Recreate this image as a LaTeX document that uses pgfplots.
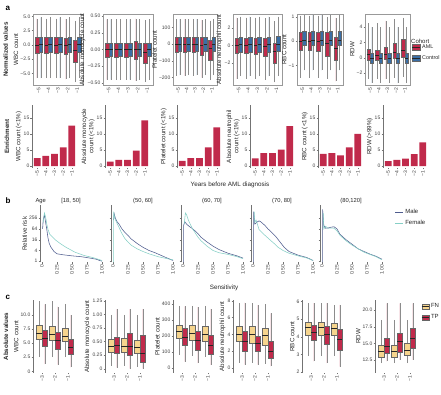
\documentclass[border=0pt]{standalone}
\usepackage{pgfplots}
\pgfplotsset{compat=1.18}
\usepgfplotslibrary{statistics}
\usepackage{fontspec}
\setmainfont{Liberation Sans}
\definecolor{aml}{HTML}{C02A4B}
\definecolor{ctl}{HTML}{3A6EA5}
\definecolor{fn}{HTML}{F6D58E}
\definecolor{male}{HTML}{4E5C8E}
\definecolor{female}{HTML}{86CFC6}
\newcommand{\bx}[7]{\addplot[forget plot, fill=#7, draw=black!60, line width=0.3pt, boxplot prepared={draw direction=y, draw position=#1, lower whisker=#2, lower quartile=#3, median=#4, upper quartile=#5, upper whisker=#6}] coordinates {};}
\newcommand{\lf}{\fontsize{6.2}{7.2}\selectfont}
\pgfplotsset{
  boxplot/every median/.style={draw=black!85, line width=0.8pt},
  boxplot/every whisker/.style={draw=black!45, line width=0.3pt},
  base/.style={scale only axis, anchor=south west,
    font=\fontsize{5}{6}\selectfont,
    tick label style={font=\fontsize{5}{6}\selectfont, text=black!75},
    label style={font=\lf, text=black!85},
    /pgf/number format/assume math mode=true,
    major tick length=1.5pt, tick align=outside,
    every tick/.style={black!55, line width=0.3pt},
    axis line style={black!55, line width=0.35pt},
    xticklabel style={rotate=90, anchor=east, inner sep=1pt},
    yticklabel style={inner sep=1pt},
    ylabel style={align=center, inner sep=1pt},
  },
  boxA/.style={base, height=71pt, xmin=0.4, xmax=5.6, xtick={1,2,3,4,5},
    xticklabels={−5,−4,−3,−2,−1}, tick pos=left, axis line style={black!40},
    boxplot/box extend=0.38, boxplot/whisker extend=0},
  barA/.style={base, width=45pt, height=63pt, xmin=0.4, xmax=5.6, ymin=-0.6, ymax=19,
    axis lines*=left, x axis line style={draw=none}, xtick={1,2,3,4,5},
    xticklabels={−5,−4,−3,−2,−1}, ytick={0,5,10,15}, yticklabels={0,5,10,15}},
  lineB/.style={base, width=63pt, height=57.5pt, xmin=-0.03, xmax=1.02, log basis y=2,
    ymin=0.85, ymax=1400, axis lines*=left, x axis line style={draw=none},
    xtick={0,0.25,0.5,0.75,1}, xticklabels={0,0.25,0.50,0.75,1.00},
    ytick={1,4,16,64,256}, yticklabels={}},
  boxC/.style={base, width=42pt, height=73pt, xmin=0.3, xmax=3.55,
    axis lines*=left, x axis line style={draw=none}, xtick={1,2,3},
    xticklabels={−3,−2,−1}, boxplot/box extend=0.42, boxplot/whisker extend=0},
  ml/.style={male, line width=0.55pt},
  fl/.style={female, line width=0.55pt},
  lg/.style={legend style={at={#1}, anchor=north west, draw=none, fill=none, inner sep=0pt,
    row sep=1.5pt, font=\fontsize{6}{7}\selectfont, text=black!85, cells={anchor=west}}},
}
\begin{document}
\begin{tikzpicture}
\path[use as bounding box] (0pt,0pt) rectangle (441pt,395pt);
% ---------------- row a: normalized values
\begin{axis}[boxA, at={(33pt,310pt)}, width=50pt, ymin=-7, ymax=5.4, ytick={-5,-2.5,0,2.5,5},
  yticklabels={−5.0,−2.5,0.0,2.5,5.0}, ylabel={\textbf{Normalized values}\\[3pt]WBC count}]
\bx{0.8}{-5.8}{-1.5}{0}{1.3}{4.6}{aml}\bx{1.2}{-5.8}{-1.3}{0.05}{1.4}{4.8}{ctl}
\bx{1.8}{-5.8}{-1.5}{0}{1.3}{4.6}{aml}\bx{2.2}{-5.8}{-1.3}{0.05}{1.4}{4.8}{ctl}
\bx{2.8}{-5.8}{-1.5}{0}{1.3}{4.6}{aml}\bx{3.2}{-5.8}{-1.3}{0.05}{1.4}{4.8}{ctl}
\bx{3.8}{-6.0}{-1.7}{-0.1}{1.2}{4.5}{aml}\bx{4.2}{-5.8}{-1.3}{0.05}{1.4}{4.8}{ctl}
\bx{4.8}{-6.5}{-3.0}{-1.0}{0.8}{4.2}{aml}\bx{5.2}{-5.8}{-1.3}{0.05}{1.4}{4.8}{ctl}
\end{axis}
\begin{axis}[boxA, at={(103pt,310pt)}, width=50pt, ymin=-0.53, ymax=0.53, ytick={-0.5,-0.25,0,0.25,0.5},
  yticklabels={−0.50,−0.25,0.00,0.25,0.50}, ylabel={Absolute monocycle count}]
\bx{0.8}{-0.45}{-0.12}{0}{0.1}{0.45}{aml}\bx{1.2}{-0.45}{-0.1}{0}{0.1}{0.45}{ctl}
\bx{1.8}{-0.45}{-0.12}{0}{0.1}{0.45}{aml}\bx{2.2}{-0.45}{-0.1}{0}{0.1}{0.45}{ctl}
\bx{2.8}{-0.45}{-0.12}{0}{0.1}{0.45}{aml}\bx{3.2}{-0.45}{-0.1}{0}{0.1}{0.45}{ctl}
\bx{3.8}{-0.47}{-0.14}{0}{0.12}{0.46}{aml}\bx{4.2}{-0.45}{-0.1}{0}{0.1}{0.45}{ctl}
\bx{4.8}{-0.48}{-0.2}{-0.05}{0.09}{0.44}{aml}\bx{5.2}{-0.45}{-0.1}{0}{0.1}{0.45}{ctl}
\end{axis}
\begin{axis}[boxA, at={(173pt,310pt)}, width=44pt, ymin=-244, ymax=180, ytick={-200,-100,0,100},
  yticklabels={−200,−100,0,100}, ylabel={Platelet count}]
\bx{0.8}{-190}{-45}{0}{44}{150}{aml}\bx{1.2}{-185}{-40}{0}{44}{150}{ctl}
\bx{1.8}{-190}{-45}{0}{44}{150}{aml}\bx{2.2}{-185}{-40}{0}{44}{150}{ctl}
\bx{2.8}{-190}{-45}{0}{44}{150}{aml}\bx{3.2}{-185}{-40}{0}{44}{150}{ctl}
\bx{3.8}{-200}{-65}{-5}{40}{145}{aml}\bx{4.2}{-185}{-40}{0}{44}{150}{ctl}
\bx{4.8}{-215}{-95}{-25}{24}{140}{aml}\bx{5.2}{-185}{-40}{0}{44}{150}{ctl}
\end{axis}
\begin{axis}[boxA, at={(233pt,310pt)}, width=49pt, ymin=-4.5, ymax=3.6, ytick={-2,0,2},
  yticklabels={−2,0,2}, ylabel={Absolute neutrophil count}]
\bx{0.8}{-3.8}{-0.9}{0}{0.9}{3.2}{aml}\bx{1.2}{-3.5}{-0.7}{0.1}{1.0}{3.3}{ctl}
\bx{1.8}{-3.8}{-0.9}{0}{0.9}{3.2}{aml}\bx{2.2}{-3.5}{-0.7}{0.1}{1.0}{3.3}{ctl}
\bx{2.8}{-3.8}{-1.0}{0}{0.9}{3.2}{aml}\bx{3.2}{-3.5}{-0.7}{0.1}{1.0}{3.3}{ctl}
\bx{3.8}{-3.9}{-1.2}{-0.1}{0.9}{3.1}{aml}\bx{4.2}{-3.5}{-0.7}{0.1}{1.0}{3.3}{ctl}
\bx{4.8}{-4.2}{-2.0}{-0.7}{0.26}{2.8}{aml}\bx{5.2}{-3.5}{-0.6}{0.1}{1.1}{3.3}{ctl}
\end{axis}
\begin{axis}[boxA, at={(297pt,310pt)}, width=46pt, ymin=-1.8, ymax=1.12, ytick={-1,0,1},
  yticklabels={−1,0,1}, ylabel={RBC count}]
\bx{0.8}{-1.5}{-0.36}{0}{0.38}{1.05}{aml}\bx{1.2}{-1.2}{-0.18}{0.05}{0.42}{1.08}{ctl}
\bx{1.8}{-1.5}{-0.36}{0}{0.38}{1.05}{aml}\bx{2.2}{-1.2}{-0.18}{0.05}{0.42}{1.08}{ctl}
\bx{2.8}{-1.5}{-0.4}{0}{0.38}{1.05}{aml}\bx{3.2}{-1.2}{-0.18}{0.05}{0.42}{1.08}{ctl}
\bx{3.8}{-1.55}{-0.6}{-0.1}{0.38}{1.0}{aml}\bx{4.2}{-1.2}{-0.18}{0.05}{0.42}{1.08}{ctl}
\bx{4.8}{-1.65}{-0.77}{-0.3}{0.18}{0.95}{aml}\bx{5.2}{-1.2}{-0.18}{0.05}{0.42}{1.08}{ctl}
\end{axis}
\begin{axis}[boxA, at={(365pt,310pt)}, width=45pt, ymin=-3.55, ymax=5.7, ytick={-2,0,2,4},
  yticklabels={−2,0,2,4}, ylabel={RDW}, lg={(1.03,0.6)}, legend style={font=\fontsize{5.4}{6.4}\selectfont}]
\bx{0.8}{-2.8}{-0.3}{0.4}{1.1}{4.5}{aml}\bx{1.2}{-3.3}{-0.7}{-0.05}{0.55}{4.0}{ctl}
\bx{1.8}{-2.8}{-0.25}{0.35}{1.0}{4.5}{aml}\bx{2.2}{-3.3}{-0.7}{-0.05}{0.55}{4.0}{ctl}
\bx{2.8}{-2.8}{-0.2}{0.45}{1.4}{4.8}{aml}\bx{3.2}{-3.3}{-0.7}{-0.05}{0.55}{4.0}{ctl}
\bx{3.8}{-2.6}{0}{0.7}{1.9}{5.0}{aml}\bx{4.2}{-3.3}{-0.7}{-0.05}{0.55}{4.0}{ctl}
\bx{4.8}{-2.5}{0.1}{1.0}{2.4}{5.2}{aml}\bx{5.2}{-3.3}{-0.7}{-0.05}{0.55}{4.0}{ctl}
\addlegendimage{legend image code/.code={\draw[fill=aml,draw=black!60,line width=0.3pt] (0pt,-2.8pt) rectangle (8pt,2.8pt); \draw[black!85,line width=0.6pt] (0pt,0pt) -- (8pt,0pt);}}
\addlegendentry{AML}
\addlegendimage{legend image code/.code={\draw[fill=ctl,draw=black!60,line width=0.3pt] (0pt,-2.8pt) rectangle (8pt,2.8pt); \draw[black!85,line width=0.6pt] (0pt,0pt) -- (8pt,0pt);}}
\addlegendentry{Control}
\end{axis}
\node[anchor=west, font=\fontsize{6}{7}\selectfont, text=black!85, inner sep=0pt] at (411pt,354pt) {Cohort};
% ---------------- row a: enrichment
\begin{axis}[barA, at={(32pt,227pt)}, ylabel={\textbf{Enrichment}\\[4pt]WBC count (<1\%)}]
\addplot[ybar, bar width=6.8pt, fill=aml, draw=none, forget plot] coordinates {(1,2.5)(2,3.2)(3,3.8)(4,5.8)(5,12.6)};
\end{axis}
\begin{axis}[barA, at={(105pt,227pt)}, ylabel={Absolute monocycle\\count (<1\%)}]
\addplot[ybar, bar width=6.8pt, fill=aml, draw=none, forget plot] coordinates {(1,1.4)(2,1.9)(3,1.9)(4,4.8)(5,14.2)};
\end{axis}
\begin{axis}[barA, at={(177pt,227pt)}, ylabel={Platelet count (<1\%)}]
\addplot[ybar, bar width=6.8pt, fill=aml, draw=none, forget plot] coordinates {(1,1.6)(2,2.5)(3,2.5)(4,5.8)(5,12.0)};
\end{axis}
\begin{axis}[barA, at={(250pt,227pt)}, ylabel={Absolute neutrophil\\count (<1\%)}]
\addplot[ybar, bar width=6.8pt, fill=aml, draw=none, forget plot] coordinates {(1,2.4)(2,4.0)(3,4.0)(4,5.1)(5,12.4)};
\end{axis}
\begin{axis}[barA, at={(318pt,227pt)}, ylabel={RBC count (<1\%)}]
\addplot[ybar, bar width=6.8pt, fill=aml, draw=none, forget plot] coordinates {(1,3.8)(2,4.0)(3,3.3)(4,5.8)(5,10.0)};
\end{axis}
\begin{axis}[barA, at={(383pt,227pt)}, ylabel={RDW (>99\%)}]
\addplot[ybar, bar width=6.8pt, fill=aml, draw=none, forget plot] coordinates {(1,1.5)(2,1.9)(3,2.3)(4,3.7)(5,7.4)};
\end{axis}
\node[font=\fontsize{6.3}{7}\selectfont, text=black!85] at (230pt,210pt) {Years before AML diagnosis};
% ---------------- row b
\begin{semilogyaxis}[lineB, at={(40.2pt,132.5pt)}, yticklabels={1,4,16,64,256}, ylabel={Relative risk}]
\addplot[ml] coordinates {(0.01,64)(0.02,200)(0.04,400)(0.06,150)(0.08,60)(0.1,20)(0.12,10)(0.15,6)(0.2,3.5)(0.25,2.6)(0.35,2.3)(0.5,2.0)(0.65,1.8)(0.8,1.5)(0.9,1.3)(1,1)};
\addplot[fl] coordinates {(0.02,150)(0.04,500)(0.06,300)(0.08,120)(0.1,60)(0.13,32)(0.18,22)(0.23,15)(0.3,10)(0.4,6)(0.47,4.5)(0.55,3.2)(0.7,2.1)(0.85,1.6)(1,1.1)};
\end{semilogyaxis}
\begin{semilogyaxis}[lineB, at={(111.2pt,132.5pt)}]
\addplot[ml] coordinates {(0.01,200)(0.02,450)(0.04,250)(0.07,160)(0.1,120)(0.15,64)(0.2,40)(0.25,28)(0.3,18)(0.4,10)(0.5,6)(0.6,4)(0.7,3)(0.85,1.8)(1,1.1)};
\addplot[fl] coordinates {(0.01,0.85)(0.01,600)(0.03,250)(0.06,150)(0.1,80)(0.14,40)(0.2,18)(0.25,12)(0.3,8)(0.4,5)(0.5,3.5)(0.6,2.6)(0.75,1.8)(0.9,1.4)(1,1.2)};
\end{semilogyaxis}
\begin{semilogyaxis}[lineB, at={(181.2pt,132.5pt)}]
\addplot[ml] coordinates {(0.01,0.85)(0.01,100)(0.03,160)(0.06,120)(0.1,90)(0.15,70)(0.2,50)(0.25,35)(0.3,22)(0.4,12)(0.5,7)(0.6,4.5)(0.75,2.8)(0.9,2)(1,1.5)};
\addplot[fl] coordinates {(0.02,120)(0.04,500)(0.06,400)(0.09,200)(0.12,120)(0.16,64)(0.2,40)(0.25,22)(0.3,14)(0.4,7)(0.5,4)(0.6,3)(0.75,2.4)(0.9,1.8)(1,1.4)};
\end{semilogyaxis}
\begin{semilogyaxis}[lineB, at={(251.2pt,132.5pt)}]
\addplot[ml] coordinates {(0.01,0.85)(0.01,600)(0.03,120)(0.06,150)(0.1,180)(0.13,160)(0.2,100)(0.25,64)(0.3,45)(0.38,24)(0.45,12)(0.52,6)(0.6,3.5)(0.75,2.2)(0.9,1.6)(1,1.1)};
\addplot[fl] coordinates {(0.02,600)(0.03,150)(0.05,200)(0.08,100)(0.1,60)(0.15,40)(0.2,28)(0.28,16)(0.35,10)(0.42,6)(0.5,4)(0.6,2.8)(0.75,2)(0.9,1.5)(1,1.1)};
\end{semilogyaxis}
\begin{semilogyaxis}[lineB, at={(320.2pt,132.5pt)}, lg={(1.18,0.97)},
  legend image code/.code={\draw[#1] (0pt,0pt) -- (8pt,0pt);}]
\addplot[ml] coordinates {(0.01,0.85)(0.01,800)(0.03,100)(0.06,70)(0.1,72)(0.15,80)(0.2,85)(0.25,64)(0.3,32)(0.4,16)(0.5,9)(0.6,5)(0.7,3.5)(0.8,2.5)(0.9,1.9)(1,1.3)};
\addplot[fl] coordinates {(0.02,500)(0.03,64)(0.06,90)(0.1,70)(0.15,72)(0.2,70)(0.25,50)(0.3,28)(0.4,14)(0.5,8)(0.6,5)(0.7,3.2)(0.8,2.4)(0.9,1.8)(1,1.2)};
\legend{Male,Female}
\end{semilogyaxis}
\node[anchor=west, font=\fontsize{5.8}{7}\selectfont, text=black!85] at (32pt,194pt) {Age};
\node[font=\fontsize{5.8}{7}\selectfont, text=black!85] at (71pt,194pt) {[18, 50]};
\node[font=\fontsize{5.8}{7}\selectfont, text=black!85] at (143pt,194pt) {(50, 60]};
\node[font=\fontsize{5.8}{7}\selectfont, text=black!85] at (212pt,194pt) {(60, 70]};
\node[font=\fontsize{5.8}{7}\selectfont, text=black!85] at (282pt,194pt) {(70, 80]};
\node[font=\fontsize{5.8}{7}\selectfont, text=black!85] at (351pt,194pt) {(80,120]};
\node[font=\fontsize{6.3}{7}\selectfont, text=black!85] at (224pt,107pt) {Sensitivity};
% ---------------- row c
\begin{axis}[boxC, at={(33pt,22pt)}, ymin=-0.3, ymax=12.7, ytick={0,2.5,5,7.5,10},
  yticklabels={0,2.5,5.0,7.5,10.0}, ylabel={\textbf{Absolute values}\\[3pt]WBC count}]
\bx{0.78}{2.5}{5.8}{6.7}{8.3}{12.5}{fn}\bx{1.22}{1.3}{4.4}{5.8}{7.4}{11.9}{aml}
\bx{1.78}{2.5}{5.6}{6.6}{8.1}{12.5}{fn}\bx{2.22}{1.2}{4.0}{5.5}{6.9}{11.5}{aml}
\bx{2.78}{2.5}{5.4}{6.3}{7.6}{12.0}{fn}\bx{3.22}{0.7}{3.1}{4.2}{5.7}{10.0}{aml}
\end{axis}
\begin{axis}[boxC, at={(105pt,22pt)}, ymin=-0.08, ymax=1.27, ytick={0,0.25,0.5,0.75,1,1.25},
  yticklabels={0,0.25,0.50,0.75,1.00,1.25}, ylabel={Absolute monocycle count}]
\bx{0.78}{0.05}{0.31}{0.42}{0.54}{1.0}{fn}\bx{1.22}{0.02}{0.28}{0.43}{0.59}{1.1}{aml}
\bx{1.78}{0.05}{0.31}{0.42}{0.56}{1.0}{fn}\bx{2.22}{0.0}{0.25}{0.41}{0.65}{1.1}{aml}
\bx{2.78}{0.04}{0.28}{0.39}{0.53}{1.0}{fn}\bx{3.22}{0.0}{0.12}{0.28}{0.62}{1.1}{aml}
\end{axis}
\begin{axis}[boxC, at={(173pt,22pt)}, ymin=-31, ymax=425, ytick={0,100,200,300,400},
  yticklabels={0,100,200,300,400}, ylabel={Platelet count}]
\bx{0.78}{80}{187}{228}{265}{390}{fn}\bx{1.22}{40}{145}{193}{249}{385}{aml}
\bx{1.78}{75}{176}{218}{265}{390}{fn}\bx{2.22}{30}{114}{170}{228}{380}{aml}
\bx{2.78}{70}{166}{211}{259}{390}{fn}\bx{3.22}{20}{87}{141}{207}{370}{aml}
\end{axis}
\begin{axis}[boxC, at={(233pt,22pt)}, ymin=-0.6, ymax=8.1, ytick={0,2,4,6,8},
  yticklabels={0,2,4,6,8}, ylabel={Absolute neutrophil count}]
\bx{0.78}{0.6}{3.17}{3.96}{4.95}{7.7}{fn}\bx{1.22}{0.4}{1.98}{3.17}{4.36}{7.8}{aml}
\bx{1.78}{0.6}{2.97}{3.96}{4.95}{7.7}{fn}\bx{2.22}{0.4}{1.98}{2.97}{3.76}{7.5}{aml}
\bx{2.78}{0.5}{2.77}{3.88}{4.75}{7.6}{fn}\bx{3.22}{0.2}{1.19}{1.98}{3.17}{6.5}{aml}
\end{axis}
\begin{axis}[boxC, at={(302pt,22pt)}, ymin=1.94, ymax=6.08, ytick={2,3,4,5,6},
  yticklabels={2,3,4,5,6}, ylabel={RBC count}]
\bx{0.78}{2.9}{4.11}{4.53}{4.83}{5.9}{fn}\bx{1.22}{2.6}{3.83}{4.25}{4.68}{5.9}{aml}
\bx{1.78}{2.9}{4.11}{4.53}{4.83}{5.9}{fn}\bx{2.22}{2.5}{3.55}{4.11}{4.58}{5.9}{aml}
\bx{2.78}{2.9}{4.11}{4.49}{4.77}{5.8}{fn}\bx{3.22}{2.3}{3.26}{3.87}{4.4}{5.8}{aml}
\end{axis}
\begin{axis}[boxC, at={(375pt,22pt)}, ymin=10.55, ymax=21.5, ytick={12.5,15,17.5,20},
  yticklabels={12.5,15.0,17.5,20.0}, ylabel={RDW}, lg={(1.1,0.98)}]
\bx{0.78}{12.0}{13.0}{13.75}{14.75}{18.5}{fn}\bx{1.22}{12.3}{13.5}{14.5}{15.75}{21.0}{aml}
\bx{1.78}{12.0}{13.0}{13.75}{14.75}{18.5}{fn}\bx{2.22}{12.5}{13.75}{15.25}{16.5}{21.0}{aml}
\bx{2.78}{12.0}{13.25}{14.0}{15.0}{18.5}{fn}\bx{3.22}{12.5}{14.25}{15.75}{17.25}{21.0}{aml}
\addlegendimage{legend image code/.code={\draw[fill=fn,draw=black!60,line width=0.3pt] (0pt,-2.8pt) rectangle (7pt,2.8pt); \draw[black!85,line width=0.6pt] (0pt,0pt) -- (7pt,0pt);}}
\addlegendentry{FN}
\addlegendimage{legend image code/.code={\draw[fill=aml,draw=black!60,line width=0.3pt] (0pt,-2.8pt) rectangle (7pt,2.8pt); \draw[black!85,line width=0.6pt] (0pt,0pt) -- (7pt,0pt);}}
\addlegendentry{TP}
\end{axis}
% panel letters
\node[anchor=west, font=\bfseries\fontsize{8}{9}\selectfont] at (2pt,387pt) {a};
\node[anchor=west, font=\bfseries\fontsize{8}{9}\selectfont] at (2pt,194pt) {b};
\node[anchor=west, font=\bfseries\fontsize{8}{9}\selectfont] at (2pt,98pt) {c};
\end{tikzpicture}
\end{document}
